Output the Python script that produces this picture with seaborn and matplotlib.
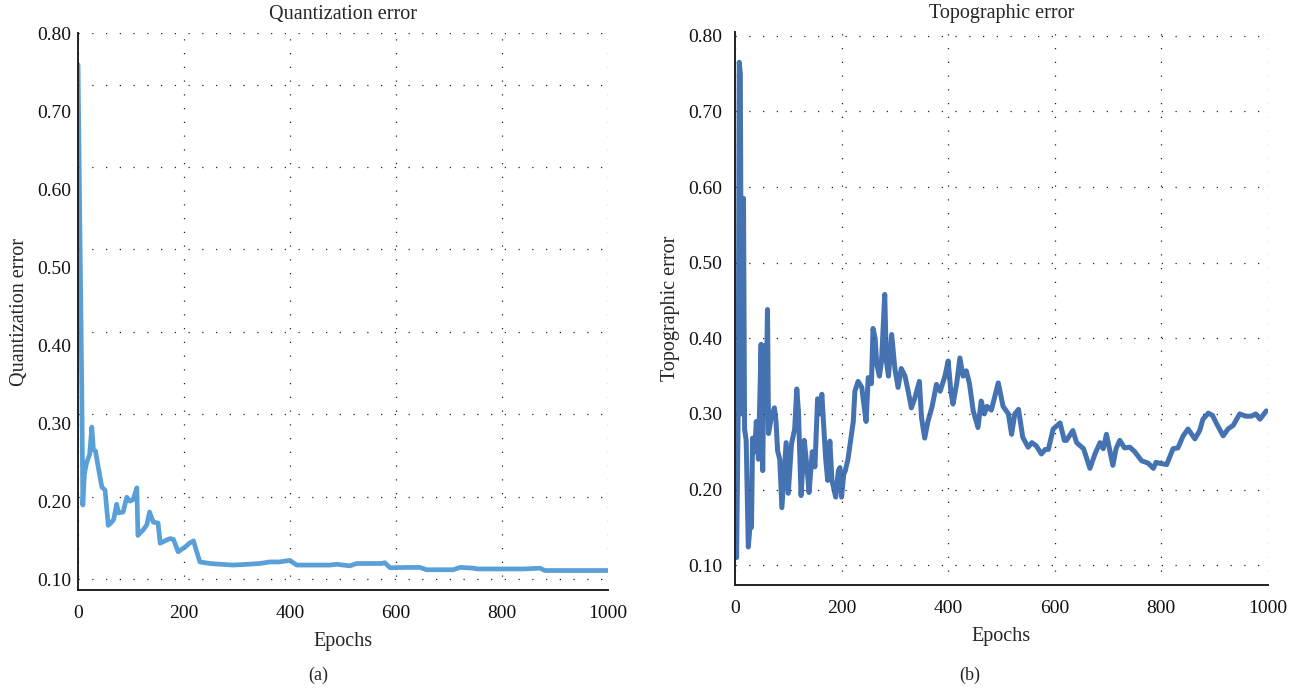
import matplotlib
matplotlib.use("Agg")
import matplotlib.pyplot as plt
import numpy as np
import pandas as pd
import seaborn as sns

# ---- data ----
qe_epochs = [0, 3, 7, 9, 12, 16, 22, 26, 29, 33, 38, 45, 51, 57, 62, 67, 73, 76, 85, 92,
             98, 104, 111, 113, 118, 123, 130, 135, 142, 151, 155, 161, 167, 174, 180, 189,
             195, 202, 210, 218, 224, 230, 249, 270, 293, 320, 343, 362, 380, 400, 406, 413,
             450, 475, 488, 513, 526, 550, 573, 579, 589, 620, 645, 658, 708, 721, 746, 755,
             800, 840, 872, 881, 940, 1000]
qe_values = [0.76, 0.578, 0.35, 0.195, 0.235, 0.249, 0.26, 0.295, 0.266, 0.264, 0.244, 0.218,
             0.214, 0.169, 0.172, 0.176, 0.196, 0.185, 0.186, 0.205, 0.20, 0.202, 0.217, 0.156,
             0.160, 0.163, 0.170, 0.186, 0.173, 0.172, 0.146, 0.148, 0.150, 0.152, 0.151, 0.135,
             0.138, 0.141, 0.146, 0.149, 0.135, 0.122, 0.120, 0.119, 0.118, 0.119, 0.120, 0.122,
             0.122, 0.124, 0.121, 0.118, 0.118, 0.118, 0.119, 0.117, 0.120, 0.120, 0.120, 0.121,
             0.1145, 0.115, 0.115, 0.112, 0.112, 0.115, 0.114, 0.113, 0.113, 0.113, 0.114, 0.111,
             0.111, 0.111]

te_epochs = [0, 3, 6, 8, 10, 12, 13, 14, 16, 18, 21, 25, 28, 31, 33, 37, 40, 44, 49, 52, 55,
             58, 61, 63, 68, 74, 77, 80, 84, 88, 92, 96, 100, 106, 112, 116, 119, 124, 130, 135,
             139, 145, 150, 155, 160, 163, 166, 170, 174, 178, 182, 189, 194, 197, 200, 204, 207,
             212, 216, 222, 225, 231, 238, 241, 246, 250, 256, 259, 263, 266, 271, 275, 281, 284,
             288, 294, 300, 306, 312, 319, 325, 331, 337, 346, 350, 356, 362, 370, 378, 385, 394,
             400, 405, 409, 416, 422, 428, 434, 440, 447, 456, 462, 468, 473, 481, 494, 503, 513,
             519, 525, 532, 540, 550, 557, 565, 575, 582, 588, 597, 610, 618, 622, 634, 641, 654,
             666, 676, 685, 691, 697, 709, 715, 722, 731, 741, 750, 763, 775, 785, 790, 795, 810,
             822, 831, 841, 850, 863, 872, 878, 888, 896, 903, 916, 925, 935, 947, 958, 969, 977,
             985, 997]
te_values = [0.30, 0.11, 0.30, 0.765, 0.75, 0.40, 0.30, 0.585, 0.585, 0.28, 0.265, 0.124, 0.15,
             0.15, 0.268, 0.25, 0.29, 0.24, 0.392, 0.225, 0.39, 0.30, 0.438, 0.274, 0.295, 0.308,
             0.29, 0.251, 0.24, 0.176, 0.22, 0.262, 0.195, 0.26, 0.28, 0.333, 0.304, 0.192, 0.265,
             0.23, 0.196, 0.25, 0.23, 0.32, 0.30, 0.326, 0.29, 0.242, 0.212, 0.264, 0.212, 0.19,
             0.225, 0.229, 0.19, 0.22, 0.225, 0.24, 0.26, 0.29, 0.33, 0.343, 0.335, 0.317, 0.29,
             0.348, 0.34, 0.413, 0.40, 0.366, 0.35, 0.37, 0.458, 0.37, 0.35, 0.405, 0.36, 0.335,
             0.36, 0.35, 0.33, 0.308, 0.32, 0.343, 0.295, 0.268, 0.29, 0.31, 0.339, 0.33, 0.35,
             0.37, 0.33, 0.313, 0.34, 0.374, 0.35, 0.357, 0.34, 0.304, 0.282, 0.317, 0.30, 0.31,
             0.305, 0.341, 0.31, 0.30, 0.273, 0.30, 0.306, 0.269, 0.256, 0.262, 0.258, 0.247,
             0.253, 0.253, 0.28, 0.288, 0.265, 0.265, 0.278, 0.262, 0.254, 0.228, 0.248, 0.262,
             0.254, 0.273, 0.232, 0.254, 0.265, 0.255, 0.256, 0.25, 0.238, 0.235, 0.228, 0.236,
             0.235, 0.233, 0.254, 0.255, 0.271, 0.28, 0.267, 0.278, 0.293, 0.301, 0.298, 0.288,
             0.271, 0.28, 0.285, 0.30, 0.297, 0.297, 0.30, 0.293, 0.304]

x_ticks = [0, 200, 400, 600, 800, 1000]
y_ticks = [0.10, 0.20, 0.30, 0.40, 0.50, 0.60, 0.70, 0.80]

qe = pd.DataFrame({"epoch": qe_epochs, "error": qe_values})
te = pd.DataFrame({"epoch": te_epochs, "error": te_values})

sns.set_style("white")
plt.rcParams["font.family"] = ["Liberation Serif", "DejaVu Serif"]
plt.rcParams["font.size"] = 14

fig = plt.figure(figsize=(13.05, 6.93), dpi=100)
ax1 = fig.add_axes([0.0598, 0.1486, 0.406, 0.8034])
ax2 = fig.add_axes([0.5632, 0.1558, 0.4084, 0.7980])

sns.lineplot(data=qe, x="epoch", y="error", ax=ax1, color="#3d90d2", lw=3.4, alpha=0.85,
             estimator=None, sort=False)
sns.lineplot(data=te, x="epoch", y="error", ax=ax2, color="#17509e", lw=3.6, alpha=0.8,
             estimator=None, sort=False)

grid_kw = dict(color="#222222", linestyle=(0, (1, 10)), linewidth=0.9)

for ax, title, ylab, ylim, ypad in [
        (ax1, "Quantization error", "Quantization error", (0.086, 0.80), 5),
        (ax2, "Topographic error", "Topographic error", (0.0737, 0.805), 9)]:
    ax.set_xlim(0, 1000)
    ax.set_ylim(*ylim)
    ax.set_xticks(x_ticks)
    ax.set_yticks(y_ticks)
    ax.set_yticklabels([f"{v:.2f}" for v in y_ticks])
    ax.set_title(title, fontsize=14.5, pad=10)
    ax.set_xlabel("Epochs", fontsize=14.5, labelpad=7)
    ax.set_ylabel(ylab, fontsize=14.5, labelpad=6)
    ax.tick_params(axis="both", length=0, labelsize=14, labelcolor="#111111")
    ax.tick_params(axis="y", pad=ypad)
    ax.tick_params(axis="x", pad=11)
    for s in ["top", "right"]:
        ax.spines[s].set_visible(False)
    for s in ["left", "bottom"]:
        ax.spines[s].set_color("#222222")
        ax.spines[s].set_linewidth(1.4)

# left panel: horizontal dotted grid is spaced slightly differently from the tick labels
ax1.yaxis.remove_overlapping_locs = False
ax1.set_yticks([0.10, 0.2057, 0.3114, 0.4171, 0.5228, 0.6285, 0.7342, 0.80], minor=True)
ax1.tick_params(which="minor", length=0)
ax1.grid(axis="y", which="minor", **grid_kw)
ax1.grid(axis="y", which="major", visible=False)
ax1.grid(axis="x", which="major", **grid_kw)

ax2.grid(which="major", **grid_kw)

fig.text(0.2437, 0.026, "(a)", ha="center", va="center", fontsize=13)
fig.text(0.7433, 0.026, "(b)", ha="center", va="center", fontsize=13)

fig.savefig("out.png", dpi=100)
